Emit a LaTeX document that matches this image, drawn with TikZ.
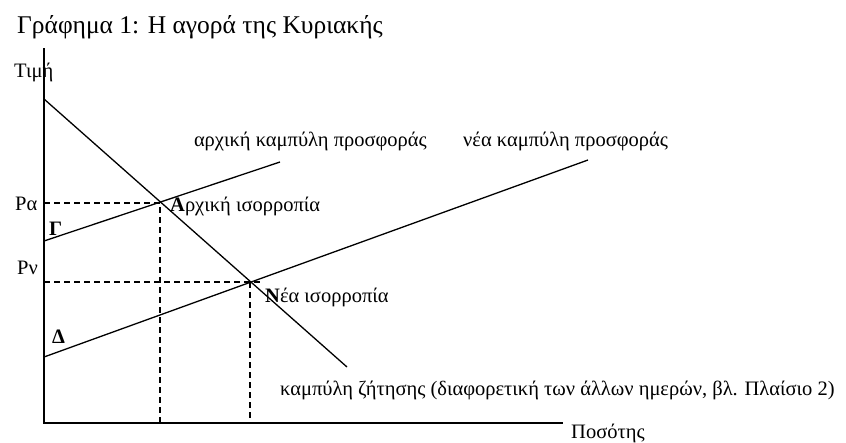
\documentclass[tikz,border=0pt]{standalone}
\usepackage{fontspec}
\setmainfont{Liberation Serif}
\begin{document}
\begin{tikzpicture}[x=1pt,y=-1pt,
  lbl/.style={anchor=base west,inner sep=0pt,font=\fontsize{20.5}{23}\selectfont},
  ttl/.style={anchor=base west,inner sep=0pt,font=\fontsize{25.5}{28}\selectfont},
  curve/.style={line width=1.3pt},
  guide/.style={line width=1.3pt,dash pattern=on 6pt off 4pt}]
\useasboundingbox (0,0) rectangle (846,442);
% points
\coordinate (O) at (44,423);
\coordinate (Ytop) at (44,48);
\coordinate (Xend) at (563,423);
\coordinate (D0) at (44,99);
\coordinate (D1) at (347,367);
\coordinate (S0) at (44,241);
\coordinate (S1) at (280,162);
\coordinate (T0) at (44,357);
\coordinate (T1) at (588,160);
\coordinate (A) at (160,203);
\coordinate (N) at (250,282);
\coordinate (Pa) at (44,203);
\coordinate (Pv) at (44,282);
\coordinate (Pve) at (263,282);
\coordinate (Qa) at (160,423);
\coordinate (Qv) at (250,423);
% guides
\draw[guide] (Pa) -- (A) -- (Qa);
\draw[guide] (Pv) -- (Pve);
\draw[guide] (N) -- (Qv);
% axes
\draw[curve] (Ytop) -- (O) -- (Xend);
% curves
\draw[curve] (D0) -- (D1);
\draw[curve] (S0) -- (S1);
\draw[curve] (T0) -- (T1);
% texts
\node[ttl] (title) at (17,33) {Γράφημα 1: Η αγορά της Κυριακής};
\node[lbl] (ylab) at (14,77) {Τιμή};
\node[lbl] (xlab) at (571,438) {Ποσότης};
\node[lbl] (pa) at (15,210) {Pα};
\node[lbl] (pv) at (17,274) {Pν};
\node[lbl] (g) at (49,235) {\textbf{Γ}};
\node[lbl] (d) at (52,343) {\textbf{Δ}};
\node[lbl] (eqa) at (170,211) {\textbf{Α}ρχική ισορροπία};
\node[lbl] (eqn) at (265,302) {\textbf{Ν}έα ισορροπία};
\node[lbl,anchor=base east] (s1l) at (427,146) {αρχική καμπύλη προσφοράς};
\node[lbl] (s2l) at (463,146) {νέα καμπύλη προσφοράς};
\node[lbl] (dl) at (280,395) {καμπύλη ζήτησης (διαφορετική των άλλων ημερών, βλ. Πλαίσιο 2)};
\end{tikzpicture}
\end{document}
